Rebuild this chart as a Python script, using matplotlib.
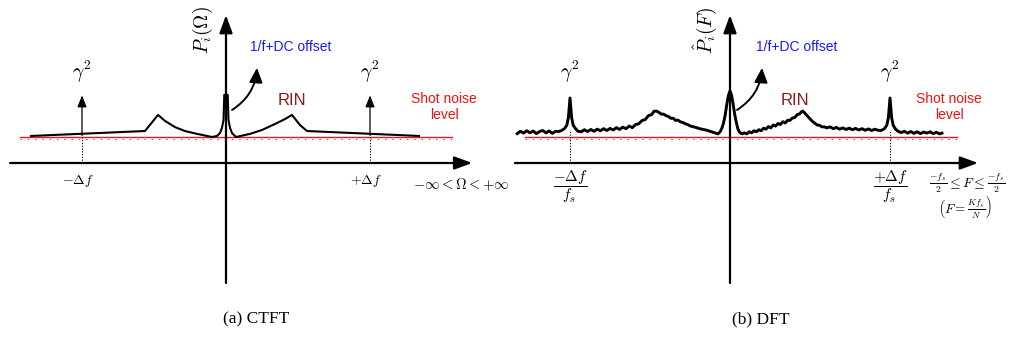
import matplotlib
matplotlib.use("Agg")
import matplotlib.pyplot as plt

plt.rcParams['font.family'] = ['Liberation Sans', 'DejaVu Sans']
plt.rcParams['mathtext.fontset'] = 'cm'

# ---- panel (a) CTFT: smooth schematic spectrum (f in units of delta f, power in shot-noise units)
ctft_freq = [-1.354, -0.5625, -0.472, -0.424, -0.354, -0.285, -0.201, -0.097,
             -0.0625, -0.042, -0.028, -0.017, -0.012, 0.012, 0.017, 0.028,
             0.042, 0.069, 0.167, 0.25, 0.34, 0.41, 0.458, 0.514, 0.5625, 1.34]
ctft_power = [1.04, 1.23, 1.85, 1.62, 1.38, 1.23, 1.12, 1.0,
              1.04, 1.15, 1.35, 1.65, 2.62, 2.62, 1.65, 1.35,
              1.15, 1.0, 1.12, 1.27, 1.5, 1.69, 1.85, 1.46, 1.23, 1.04]
ctft_tones = [-1.0, 1.0]
ctft_tone_height = 2.6
ctft_tone_labels = [r'$-\Delta f$', r'$+\Delta f$']

# ---- panel (b) DFT: measured-looking spectrum (F in units of delta f / fs)
dft_freq = [-1.33, -1.31, -1.29, -1.27, -1.25, -1.23, -1.21, -1.19, -1.17, -1.15,
            -1.13, -1.11, -1.09, -1.07, -1.05,
            -1.035, -1.02, -1.01, -1.004, -1.0, -0.996, -0.99, -0.98, -0.965,
            -0.95, -0.93, -0.91, -0.89, -0.87, -0.85, -0.83, -0.81, -0.79, -0.77,
            -0.75, -0.73, -0.71, -0.69, -0.67, -0.65,
            -0.63, -0.61, -0.59, -0.57, -0.55, -0.53, -0.51, -0.49, -0.475, -0.46,
            -0.445, -0.43, -0.415, -0.40, -0.385, -0.37, -0.355, -0.34, -0.325, -0.31,
            -0.295, -0.28, -0.265, -0.25, -0.235, -0.22, -0.205, -0.19, -0.175, -0.16,
            -0.145, -0.13, -0.115, -0.10, -0.085, -0.075,
            -0.06, -0.05, -0.04, -0.03, -0.02, -0.01, 0.0, 0.01, 0.02, 0.03,
            0.04, 0.05, 0.06, 0.075,
            0.09, 0.105, 0.12, 0.135, 0.15, 0.165, 0.18, 0.195, 0.21, 0.225,
            0.24, 0.255, 0.27, 0.285, 0.30, 0.315, 0.33, 0.345, 0.36, 0.375,
            0.39, 0.405, 0.42, 0.435, 0.445, 0.455,
            0.47, 0.485, 0.50, 0.515, 0.53, 0.545, 0.56, 0.575, 0.59, 0.605,
            0.625, 0.645, 0.665, 0.685, 0.705, 0.725, 0.745, 0.765, 0.785, 0.805,
            0.825, 0.845, 0.865, 0.885, 0.905, 0.925, 0.945,
            0.965, 0.98, 0.99, 0.996, 1.0, 1.004, 1.01, 1.02, 1.035,
            1.05, 1.07, 1.09, 1.11, 1.13, 1.15, 1.17, 1.19, 1.21, 1.23,
            1.25, 1.27, 1.29, 1.31, 1.325]
dft_power = [1.13, 1.22, 1.15, 1.24, 1.16, 1.23, 1.13, 1.21, 1.25, 1.16,
             1.23, 1.14, 1.22, 1.21, 1.26,
             1.32, 1.45, 1.75, 2.2, 2.5, 2.2, 1.75, 1.45, 1.32,
             1.22, 1.20, 1.28, 1.21, 1.29, 1.22, 1.30, 1.24, 1.32, 1.25,
             1.33, 1.27, 1.36, 1.29, 1.38, 1.32,
             1.42, 1.36, 1.48, 1.51, 1.63, 1.67, 1.82, 1.86, 1.99, 2.0,
             1.95, 1.88, 1.88, 1.82, 1.79, 1.72, 1.72, 1.64, 1.65, 1.58,
             1.56, 1.51, 1.48, 1.43, 1.40, 1.38, 1.35, 1.32, 1.30, 1.28,
             1.26, 1.23, 1.20, 1.17, 1.14, 1.12,
             1.22, 1.35, 1.55, 1.85, 2.25, 2.6, 2.77, 2.6, 2.25, 1.85,
             1.55, 1.30, 1.18, 1.12,
             1.16, 1.12, 1.20, 1.16, 1.24, 1.20, 1.28, 1.24, 1.34, 1.30,
             1.40, 1.35, 1.46, 1.42, 1.52, 1.48, 1.59, 1.54, 1.64, 1.64,
             1.73, 1.75, 1.86, 1.89, 1.96, 2.0,
             1.90, 1.80, 1.70, 1.60, 1.53, 1.46, 1.45, 1.39, 1.39, 1.35,
             1.39, 1.32, 1.37, 1.30, 1.35, 1.29, 1.34, 1.28, 1.33, 1.27,
             1.32, 1.26, 1.31, 1.25, 1.30, 1.26, 1.25,
             1.32, 1.45, 1.75, 2.2, 2.5, 2.2, 1.75, 1.45, 1.30,
             1.22, 1.17, 1.22, 1.15, 1.21, 1.14, 1.20, 1.13, 1.19, 1.15,
             1.20, 1.13, 1.18, 1.12, 1.15]
dft_tones = [-1.0, 1.0]
dft_tone_floor = [1.22, 1.26]
dft_tone_labels = [r'$\dfrac{-\Delta f}{f_s}$', r'$\dfrac{+\Delta f}{f_s}$']

shot_level = 1.0

RED = '#ee1111'
BLUE = '#1a1aff'
MAROON = '#8b1a1a'

fig = plt.figure(figsize=(10.10, 3.37), dpi=100)
ax_a = fig.add_axes([0, 0, 0.5, 1])
ax_b = fig.add_axes([0.5, 0, 0.5, 1])

# data limits chosen so both panels share the same vertical scale
ax_a.set_xlim(-1.5694, 1.9375)
ax_b.set_xlim(-1.40625, 1.75)
for ax in (ax_a, ax_b):
    ax.set_ylim(-6.692, 6.269)
    ax.axis('off')

big_head = dict(arrowstyle='-|>,head_length=0.6,head_width=0.22', lw=1.6,
                color='k', mutation_scale=18, shrinkA=0, shrinkB=0)
small_head = dict(arrowstyle='-|>,head_length=0.5,head_width=0.2', lw=0.9,
                  color='k', mutation_scale=14, shrinkA=0, shrinkB=0)
curve_head = dict(arrowstyle='-|>,head_length=0.55,head_width=0.25', lw=1.4,
                  color='k', mutation_scale=16, shrinkA=0, shrinkB=0,
                  connectionstyle='arc3,rad=0.25')


def draw_frame(ax, x0, x1, red0, red1, ylabel, label_x, arrow_start, arrow_end):
    ax.plot([red0, red1], [shot_level, shot_level], color=RED, lw=1.0, zorder=2)
    ax.plot([red0, red1], [shot_level - 0.08, shot_level - 0.08], color='#c04040',
            lw=0.7, dashes=(1.5, 6), zorder=2)
    ax.annotate('', xy=(x1, 0), xytext=(x0, 0), arrowprops=big_head, zorder=4)
    ax.annotate('', xy=(0, 5.69), xytext=(0, -4.615), arrowprops=big_head, zorder=4)
    ax.text(label_x, 5.1, ylabel, rotation=90, fontsize=14, ha='center', va='center')
    ax.annotate('', xy=arrow_end, xytext=arrow_start, arrowprops=curve_head, zorder=5)


# ---- panel (a)
draw_frame(ax_a, -1.5, 1.71, -1.43, 1.57, r'$P_i(\Omega)$', -0.16,
           (0.042, 2.04), (0.215, 3.66))
ax_a.plot(ctft_freq, ctft_power, color='k', lw=1.5, zorder=3)
for f, lab in zip(ctft_tones, ctft_tone_labels):
    ax_a.annotate('', xy=(f, ctft_tone_height), xytext=(f, 1.06), arrowprops=small_head)
    ax_a.plot([f, f], [0, 1.06], color='k', lw=0.8, ls=(0, (1, 1.5)))
    ax_a.text(f, 3.5, r'$\gamma^2$', fontsize=14, ha='center', va='center')
    ax_a.text(f - 0.03, -0.7, lab, fontsize=10, ha='center', va='center')
ax_a.text(1.3, -0.85, r'$-\infty < \Omega < +\infty$', fontsize=10.5, ha='left', va='center')
ax_a.text(0.17, 4.46, '1/f+DC offset', color=BLUE, fontsize=10, ha='left', va='center')
ax_a.text(0.46, 2.42, 'RIN', color=MAROON, fontsize=12, ha='center', va='center')
ax_a.text(1.515, 2.15, 'Shot noise\nlevel', color=RED, fontsize=10, ha='center',
          va='center', linespacing=1.25)

# ---- panel (b)
draw_frame(ax_b, -1.344, 1.55, -1.28, 1.42, r'$\hat{P}_i(F)$', -0.155,
           (0.044, 2.04), (0.2, 3.66))
ax_b.plot(dft_freq, dft_power, color='k', lw=2.1, zorder=3)
for F, floor, lab in zip(dft_tones, dft_tone_floor, dft_tone_labels):
    ax_b.plot([F, F], [0, floor], color='k', lw=0.8, ls=(0, (1, 1.5)))
    ax_b.text(F, 3.5, r'$\gamma^2$', fontsize=14, ha='center', va='center')
    ax_b.text(F, -0.92, lab, fontsize=11, ha='center', va='center')
ax_b.text(1.483, -0.78, r'$\frac{-f_s}{2} \leq F \leq \frac{-f_s}{2}$', fontsize=10,
          ha='center', va='center')
ax_b.text(1.47, -1.68, r'$\left(F = \frac{K f_s}{N}\right)$', fontsize=9.5,
          ha='center', va='center')
ax_b.text(0.16, 4.46, '1/f+DC offset', color=BLUE, fontsize=10, ha='left', va='center')
ax_b.text(0.406, 2.42, 'RIN', color=MAROON, fontsize=12, ha='center', va='center')
ax_b.text(1.37, 2.15, 'Shot noise\nlevel', color=RED, fontsize=10, ha='center',
          va='center', linespacing=1.25)

fig.text(256 / 1010, 1 - 319 / 337, '(a) CTFT', fontsize=12.5, family='Liberation Serif',
         ha='center', va='center')
fig.text(761 / 1010, 1 - 319 / 337, '(b) DFT', fontsize=12.5, family='Liberation Serif',
         ha='center', va='center')

fig.savefig('out.png', dpi=100)
